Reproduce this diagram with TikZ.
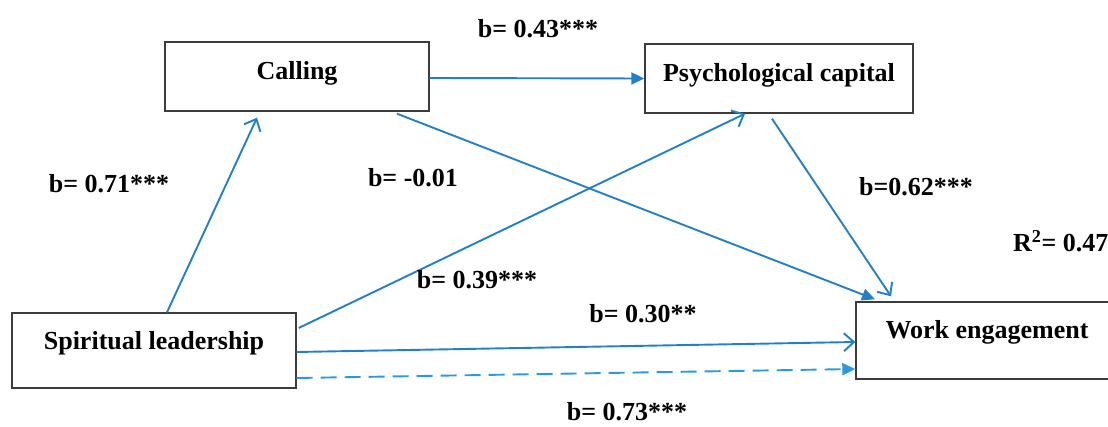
\documentclass[tikz,border=0pt]{standalone}
\usepackage{fontspec}
\setmainfont{Liberation Serif}
\usetikzlibrary{arrows.meta}
\definecolor{pathblue}{RGB}{34,128,200}
\definecolor{dashblue}{RGB}{40,155,220}
\definecolor{boxgray}{RGB}{60,60,60}

\begin{document}
\begin{tikzpicture}[x=10pt, y=10pt,
  var/.style={draw=boxgray, line width=1.4pt, inner sep=0pt, font=\fontsize{26}{30}\selectfont\bfseries},
  coef/.style={anchor=base, inner sep=0pt, font=\fontsize{26}{30}\selectfont\bfseries},
  openpath/.style={draw=pathblue, line width=1.9pt, -{Straight Barb[length=10pt,width=18pt,line width=1.9pt]}},
  fillpath/.style={draw=pathblue, line width=1.9pt, -{Triangle[length=13pt,width=12pt]}},
  dashpath/.style={draw=dashblue, line width=1.9pt, dash pattern=on 16pt off 8pt, -{Triangle[length=13pt,width=12pt]}}]
% Frame
\useasboundingbox (0,0) rectangle (110.8,42.6);
\clip (0,0) rectangle (110.8,42.6);

% Variables
\node[var, minimum width=264pt, text height=38pt, text depth=31pt] (call) at (29.7,34.95) {Calling};
\node[var, minimum width=268pt, text height=38pt, text depth=31pt] (psy) at (77.9,34.75) {Psychological capital};
\node[var, minimum width=284pt, text height=36pt, text depth=39pt] (sl) at (15.4,7.55) {Spiritual leadership};
\node[var, minimum width=262pt, text height=36pt, text depth=41pt] (we) at (98.7,8.55) {Work engagement};

% Paths
\draw[openpath] ([xshift=13pt]sl.north) -- ([xshift=-40pt,yshift=-6pt]call.south);
\draw[fillpath] ([yshift=-1.5pt]call.east) -- (psy.west);
\draw[fillpath] ([xshift=100pt,yshift=-2pt]call.south) -- ([xshift=-112pt,yshift=2pt]we.north);
\draw[openpath] ([xshift=2pt,yshift=22.5pt]sl.east) -- ([xshift=-34pt]psy.south);
\draw[openpath] ([xshift=-7pt,yshift=-5pt]psy.south) -- ([xshift=-96pt,yshift=5pt]we.north);
\draw[openpath] ([yshift=-1.5pt]sl.east) -- ([yshift=-1.5pt]we.west);
\draw[dashpath] ([yshift=-27.5pt]sl.east) -- ([yshift=-28.5pt]we.west);

% Coefficients
\node[coef] (c43) at (53.8,38.8) {b= 0.43***};
\node[coef] (c71) at (10.9,23.3) {b= 0.71***};
\node[coef] (c01) at (41.3,23.9) {b= -0.01};
\node[coef, anchor=base west] (c62) at (85.9,23.0) {b=0.62***};
\node[coef, anchor=base west] (r2) at (101.3,17.4) {R\textsuperscript{2}= 0.47};
\node[coef] (c39) at (47.7,13.8) {b= 0.39***};
\node[coef] (c30) at (64.3,10.3) {b= 0.30**};
\node[coef] (c73) at (62.7,0.6) {b= 0.73***};

\end{tikzpicture}
\end{document}
